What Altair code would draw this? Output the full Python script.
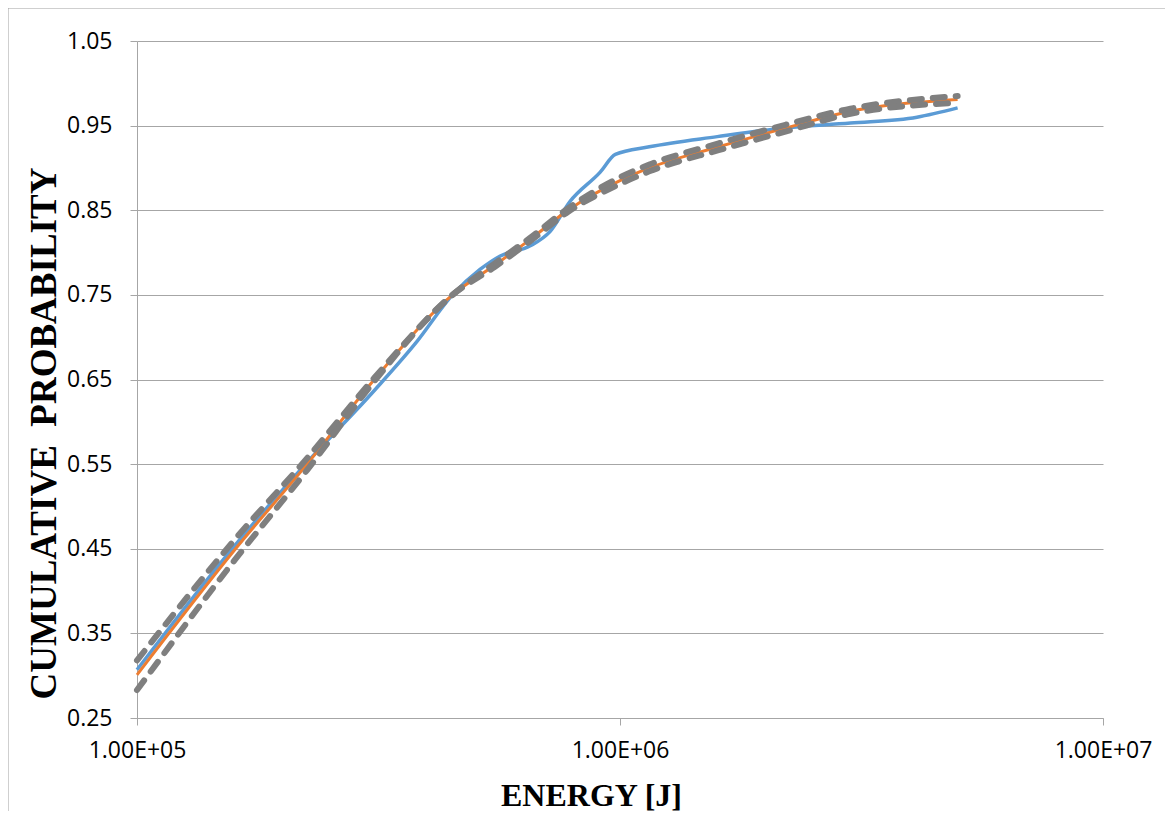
import altair as alt
import pandas as pd

# Empirical (blue)
emp_energy = [1.0e5, 1.6e5, 2.25e5, 3.1e5, 3.8e5, 4.5e5, 5.13e5, 5.65e5, 6.52e5, 7.17e5,
              7.87e5, 9.1e5, 9.78e5, 1.15e6, 1.59e6, 2.17e6, 3.0e6, 4.12e6, 5.0e6]
emp_prob = [0.307, 0.455, 0.552, 0.637, 0.695, 0.750, 0.780, 0.796, 0.808, 0.825,
            0.860, 0.895, 0.916, 0.925, 0.937, 0.947, 0.953, 0.960, 0.971]

# Fitted (orange) and confidence bounds (grey dashed)
fit_energy = [1.0e5, 1.6e5, 2.25e5, 3.1e5, 4.5e5, 5.5e5, 6.5e5, 7.8e5, 1.0e6, 1.15e6,
              1.6e6, 2.2e6, 3.0e6, 5.0e6]
fit_prob = [0.301, 0.450, 0.550, 0.650, 0.750, 0.785, 0.815, 0.850, 0.885, 0.900,
            0.925, 0.947, 0.967, 0.981]
upper_prob = [0.318, 0.462, 0.557, 0.652, 0.750, 0.787, 0.817, 0.852, 0.889, 0.904,
              0.929, 0.951, 0.970, 0.985]
lower_prob = [0.283, 0.438, 0.543, 0.648, 0.750, 0.783, 0.813, 0.848, 0.881, 0.896,
              0.921, 0.943, 0.964, 0.977]

x_ticks = [1e5, 1e6, 1e7]
y_ticks = [0.25, 0.35, 0.45, 0.55, 0.65, 0.75, 0.85, 0.95, 1.05]

W, H = 966, 677
NB = "\u00a0"

xscale = alt.Scale(type="log", domain=[1e5, 1e7])
yscale = alt.Scale(domain=[0.25, 1.05])

xaxis = alt.Axis(values=x_ticks, grid=False,
                 labelExpr="replace(format(datum.value, '.2e'), 'e+', 'E+0')",
                 title="ENERGY [J]", titleFont="Liberation Serif", titleFontSize=32,
                 titleFontWeight="bold", titleColor="#000",
                 titleX=454, titleY=77, titleAlign="center", titleBaseline="middle",
                 labelFont="Open Sans", labelFontSize=23, labelColor="#000",
                 labelPadding=14, tickSize=7, tickColor="#a6a6a6",
                 domainColor="#a6a6a6", labelFlush=False)
yaxis = alt.Axis(values=y_ticks, format=".2f", grid=True, gridColor="#a6a6a6",
                 title="CUMULATIVE" + NB * 2 + "PROBABILITY", titleFont="Liberation Serif",
                 titleFontSize=37, titleFontWeight="bold", titleColor="#000",
                 titleY=392, titleX=-93, titleAngle=-90, titleAlign="center",
                 titleBaseline="middle",
                 labelFont="Open Sans", labelFontSize=23, labelColor="#000",
                 labelPadding=18, tickSize=7, tickColor="#a6a6a6",
                 domainColor="#a6a6a6")

emp_df = pd.DataFrame({"E": emp_energy, "P": emp_prob})
fit_df = pd.DataFrame({"E": fit_energy, "P": fit_prob})
up_df = pd.DataFrame({"E": fit_energy, "P": upper_prob})
lo_df = pd.DataFrame({"E": fit_energy, "P": lower_prob})

frame = alt.Chart(pd.DataFrame({"a": [0]})).mark_rect(
    fill=None, stroke="#a0a0a0", strokeWidth=1, clip=False
).encode(x=alt.value(-129), x2=alt.value(1035), y=alt.value(-33), y2=alt.value(790))

blue = alt.Chart(emp_df).mark_line(color="#5B9BD5", strokeWidth=3.5, interpolate="monotone").encode(
    x=alt.X("E:Q", scale=xscale, axis=xaxis),
    y=alt.Y("P:Q", scale=yscale, axis=yaxis),
)
orange = alt.Chart(fit_df).mark_line(color="#ED7D31", strokeWidth=3, interpolate="monotone").encode(
    x=alt.X("E:Q", scale=xscale), y=alt.Y("P:Q", scale=yscale))
grey_u = alt.Chart(up_df).mark_line(color="#7F7F7F", strokeWidth=6, strokeDash=[12, 11],
                                     strokeCap="round", interpolate="monotone").encode(
    x=alt.X("E:Q", scale=xscale), y=alt.Y("P:Q", scale=yscale))
grey_l = alt.Chart(lo_df).mark_line(color="#7F7F7F", strokeWidth=6, strokeDash=[12, 11],
                                     strokeCap="round", interpolate="monotone").encode(
    x=alt.X("E:Q", scale=xscale), y=alt.Y("P:Q", scale=yscale))

chart = alt.layer(frame, blue, orange, grey_u, grey_l).properties(
    width=W, height=H,
    autosize=alt.AutoSizeParams(type="none"),
    padding={"left": 129, "top": 33, "right": 62, "bottom": 93},
    background="white",
).configure_view(stroke=None)

chart.save("out.html", embed_options={"renderer": "svg", "actions": False})
